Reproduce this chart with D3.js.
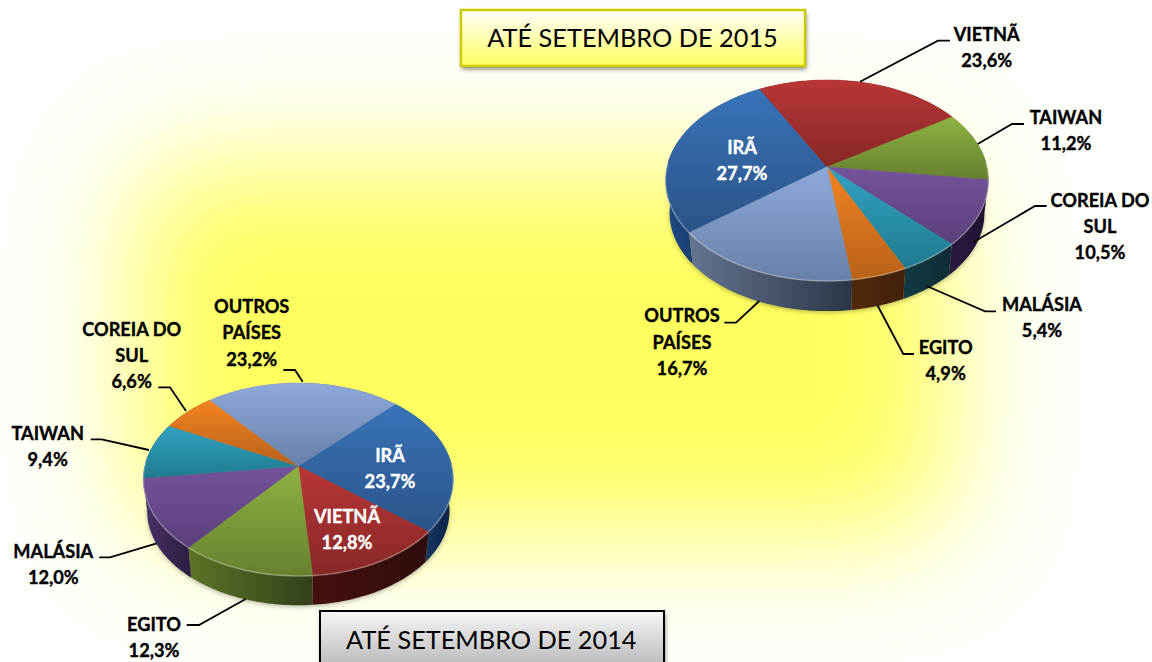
<!DOCTYPE html>
<html><head><meta charset="utf-8">
<script src="https://cdn.jsdelivr.net/npm/d3@7/dist/d3.min.js"></script>
<style>html,body{margin:0;padding:0;background:#fff;overflow:hidden}svg{display:block}text{font-family:Lato,Carlito,sans-serif}</style>
</head><body>
<svg id="c" width="1152" height="662"></svg>
<script>
const countries2015 = ["IRÃ","VIETNÃ","TAIWAN","COREIA DO SUL","MALÁSIA","EGITO","OUTROS PAÍSES"];
const values2015 = [27.7,23.6,11.2,10.5,5.4,4.9,16.7];
const countries2014 = ["IRÃ","VIETNÃ","EGITO","MALÁSIA","TAIWAN","COREIA DO SUL","OUTROS PAÍSES"];
const values2014 = [23.7,12.8,12.3,12.0,9.4,6.6,23.2];
const titles = ["ATÉ SETEMBRO DE 2015","ATÉ SETEMBRO DE 2014"];

const palette = {
  blue:{t:["#3873b9","#2a5487"],s:["#1f4a82","#0c2344"]},
  red:{t:["#b93636","#872827"],s:["#45100f","#300c0c"]},
  green:{t:["#8db241","#678030"],s:["#5b7426","#33401a"]},
  purpleDark:{t:["#74539b","#5b407c"],s:["#2c1b42","#1d1230"]},
  purple:{t:["#74539b","#5b407c"],s:["#4a3268","#2c1c40"]},
  slate:{t:["#8ea9da","#6880a8"],s:["#64748f","#2c3648"]},
  orange:{t:["#f38322","#b86118"],s:["#52290c","#42200a"]},
  teal:{t:["#31a3c2","#1f7a90"],s:["#123a44","#0e2c34"]}
};
const colour2015 = ["blue","red","green","purpleDark","teal","orange","slate"];
const colour2014 = ["blue","red","green","purple","teal","orange","slate"];

const svg = d3.select("#c");
const defs = svg.append("defs");

// page background: a soft yellow glow on near-white
const glow = defs.append("filter").attr("id","glow").attr("filterUnits","userSpaceOnUse")
  .attr("x",-300).attr("y",-300).attr("width",1752).attr("height",1262);
glow.append("feGaussianBlur").attr("stdDeviation",58);
svg.append("rect").attr("width",1152).attr("height",662).attr("fill","#fffffc");
svg.append("rect").attr("x",135).attr("y",165).attr("width",815).attr("height",370).attr("rx",60).attr("fill","#ffff60").attr("filter","url(#glow)");

const blur = defs.append("filter").attr("id","sh").attr("x","-10%").attr("y","-30%").attr("width","120%").attr("height","170%");
blur.append("feGaussianBlur").attr("stdDeviation",2.5);

let gid = 0;
function grad(c, horiz){
  const id = "g"+(gid++);
  const g = defs.append("linearGradient").attr("id",id).attr("x1",0).attr("y1",0).attr("x2",horiz?1:0).attr("y2",horiz?0:1);
  g.append("stop").attr("offset",0).attr("stop-color",c[0]);
  g.append("stop").attr("offset",1).attr("stop-color",c[1]);
  return `url(#${id})`;
}

function drawPie(o){
  const g = svg.append("g");
  const arcs = d3.pie().sort(null).startAngle(o.start).endAngle(o.start+2*Math.PI).value(d=>d)(o.values);
  const project = (a, scale=1, dy=0) => {
    const X = Math.sin(a), Y = -Math.cos(a), w = 1 - Y*o.p;
    return [o.cx + scale*o.r*X/w, o.cy + dy + scale*o.k*Y/w];
  };
  const line = d3.line();
  const samples = (a0,a1) => d3.range(0, 41).map(i => a0 + (a1-a0)*i/40);
  // soft shadow beneath the disc
  g.append("path").attr("d",line(samples(0,2*Math.PI).map(a=>project(a,o.bs,o.depth+1.5)))+"Z")
    .attr("fill","#000").attr("opacity",0.3).attr("filter","url(#sh)");
  // walls
  arcs.forEach((d,i)=>{
    const top = samples(d.startAngle,d.endAngle).map(a=>project(a));
    const bot = samples(d.startAngle,d.endAngle).reverse().map(a=>project(a,o.bs,o.depth));
    g.append("path").attr("d",line(top.concat(bot))+"Z").attr("fill",grad(palette[o.colours[i]].s,true));
  });
  // top faces
  arcs.forEach((d,i)=>{
    const rim = samples(d.startAngle,d.endAngle).map(a=>project(a));
    const f = grad(palette[o.colours[i]].t,false);
    g.append("path").attr("d",line([[o.cx,o.cy]].concat(rim))+"Z").attr("fill",f).attr("stroke",f).attr("stroke-width",0.5);
    const front = samples(d.startAngle,d.endAngle).filter(a=>Math.cos(a)<0.05).map(a=>project(a));
    if(front.length>1) g.append("path").attr("d",line(front)).attr("fill","none").attr("stroke","#fff").attr("stroke-opacity",0.28).attr("stroke-width",1.6);
  });
  o.leaders.forEach(l=>{
    g.append("path").attr("d",line(l)).attr("fill","none").attr("stroke","#000").attr("stroke-width",1.8);
  });
  o.labels.forEach(l=>{
    l.lines.forEach((s,j)=>{
      g.append("text").attr("x",l.x).attr("y",l.y+j*o.lh).attr("text-anchor","middle").attr("font-size",o.fs).attr("font-weight",700)
        .attr("fill",l.white?"#fff":"#000").attr("stroke",l.white?"#fff":"#000").attr("stroke-width",0.35).text(s);
    });
  });
}

drawPie({
  values:values2015, colours:colour2015, start:232.3*Math.PI/180,
  cx:827,cy:167,r:160,k:98.7,p:0.134,depth:33,bs:0.975,lh:26.3,fs:18.2,
  leaders:[
    [[860,81.7],[938,40.7],[950,40.7]],[[977.7,144],[1012,124],[1024,124]],[[974,241.7],[1035,206],[1046.7,206]],
    [[926.7,286],[985,311.3],[996,311.3]],[[877.3,305],[903.3,354],[914,354]],[[759.3,301],[736,322.7],[724.3,322.7]]
  ],
  labels:[
    {x:986.7,y:40.7,lines:["VIETNÃ","23,6%"]},{x:1066,y:124,lines:["TAIWAN","11,2%"]},
    {x:1100,y:206.5,lines:["COREIA DO","SUL","10,5%"]},{x:1042,y:311,lines:["MALÁSIA","5,4%"]},
    {x:945.7,y:353.5,lines:["EGITO","4,9%"]},{x:682,y:322.3,lines:["OUTROS","PAÍSES","16,7%"]},
    {x:742,y:154,lines:["IRÃ","27,7%"],white:true}
  ]
});
drawPie({
  values:values2014, colours:colour2014, start:44*Math.PI/180,
  cx:298.3,cy:466,r:153.5,k:94.6,p:0.14,depth:32,bs:0.975,lh:26.3,fs:18.2,
  leaders:[
    [[302.7,381.7],[295,370],[283.3,370]],[[186,411],[170,387.3],[158.3,387.3]],[[149,450],[101.7,439.3],[90.7,439.3]],
    [[156.7,543.3],[110,557.3],[99.3,557.3]],[[245.7,599],[199,625],[186.7,625]]
  ],
  labels:[
    {x:251.7,y:313,lines:["OUTROS","PAÍSES","23,2%"]},{x:131.7,y:335.5,lines:["COREIA DO","SUL","6,6%"]},
    {x:47.7,y:440,lines:["TAIWAN","9,4%"]},{x:53.3,y:557.7,lines:["MALÁSIA","12,0%"]},
    {x:154,y:630.5,lines:["EGITO","12,3%"]},{x:390,y:462,lines:["IRÃ","23,7%"],white:true},
    {x:347,y:523,lines:["VIETNÃ","12,8%"],white:true}
  ]
});

function box(x,y,w,h,stops,stroke,sw,text,tx,ty,shadow){
  svg.append("rect").attr("x",x+1).attr("y",y+3).attr("width",w).attr("height",h).attr("fill",shadow).attr("filter","url(#sh)");
  const id="b"+(gid++);
  const g=defs.append("linearGradient").attr("id",id).attr("x1",0).attr("y1",0).attr("x2",0).attr("y2",1);
  stops.forEach(s=>g.append("stop").attr("offset",s[0]).attr("stop-color",s[1]));
  svg.append("rect").attr("x",x).attr("y",y).attr("width",w).attr("height",h).attr("fill",`url(#${id})`).attr("stroke",stroke).attr("stroke-width",sw);
  svg.append("text").attr("x",tx).attr("y",ty).attr("text-anchor","middle").attr("font-size",25.3).attr("fill","#000").text(text);
}
box(461,10,344,56,[[0,"#ffffff"],[1,"#ffff5e"]],"#cccc00",2.5,titles[0],632.5,46.7,"#777");
box(320,611,344,70,[[0,"#f6f6f6"],[0.75,"#bdbdbd"],[1,"#aaa"]],"#000",2,titles[1],491.3,649.3,"#777");
</script>
</body></html>
